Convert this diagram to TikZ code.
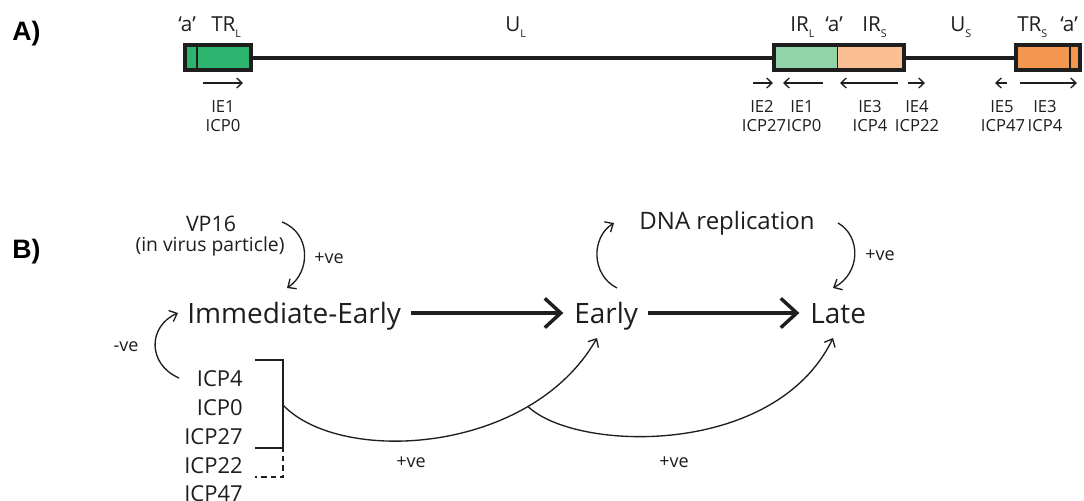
\documentclass[tikz,border=0pt]{standalone}
\usepackage{fontspec}
\setmainfont{Open Sans}
\newfontfamily\panelfont{Liberation Sans}
\usetikzlibrary{arrows.meta}
\definecolor{gDark}{RGB}{45,180,110}
\definecolor{gLight}{RGB}{145,212,168}
\definecolor{oLight}{RGB}{250,192,148}
\definecolor{oDark}{RGB}{243,150,80}
\definecolor{ink}{RGB}{30,30,30}
\newcommand{\fs}[1]{\fontsize{#1}{#1}\selectfont}
\newcommand{\lsub}[1]{\raisebox{-0.55ex}{\fs{8}#1}}
\begin{document}
\begin{tikzpicture}[x=0.75pt,y=-0.75pt,
  genome/.style={line width=3pt, draw=ink},
  boxline/.style={line width=3pt, draw=ink},
  divider/.style={line width=1.1pt, draw=ink},
  sarrow/.style={line width=1pt, draw=ink, -{Straight Barb[length=4pt,width=7.5pt]}},
  toplbl/.style={font=\fs{15.5}, anchor=base west, inner sep=0, text=ink},
  ielbl/.style={font=\fs{12.5}, anchor=base, inner sep=0, text=ink},
  panel/.style={font=\panelfont\bfseries\fs{20}, anchor=base west, inner sep=0},
  bigtxt/.style={font=\fs{21}, text height=15pt, text depth=0pt, inner sep=0, anchor=west, text=ink},
  bigarrow/.style={line width=2.4pt, draw=ink, -{Straight Barb[length=12pt,width=22pt,line width=2.6pt]}},
  curvearrow/.style={line width=1pt, draw=ink, -{Straight Barb[length=5pt,width=9pt]}},
  pm/.style={font=\fs{13.5}, inner sep=0, text=ink},
  icp/.style={font=\fs{16.5}, anchor=east, inner sep=0, text height=12pt, text depth=0pt, text=ink},
  midtxt/.style={font=\fs{18}, anchor=base, inner sep=0, text=ink}
]
\useasboundingbox (0,0) rectangle (1084,500);
\fill[white] (0,0) rectangle (1084,500);

% ---------------- Panel A ----------------
\node[panel] (pa) at (12,40) {A)};

% boxes
\fill[gDark] (185,45) rectangle (251,70);
\draw[divider] (197,45) -- (197,70);
\draw[boxline] (185,45) rectangle (251,70);
\coordinate (trlE) at (251,58);

\fill[gLight] (774,45) rectangle (837,70);
\fill[oLight] (837,45) rectangle (904,70);
\draw[divider] (837.5,45) -- (837.5,70);
\draw[boxline] (774,45) rectangle (904,70);
\coordinate (irW) at (774,58);
\coordinate (irE) at (904,58);

\fill[oDark] (1016,45) rectangle (1080,70);
\draw[divider] (1070,45) -- (1070,70);
\draw[boxline] (1016,45) rectangle (1080,70);
\coordinate (trsW) at (1016,58);

\draw[genome] (trlE) -- (irW);
\draw[genome] (irE) -- (trsW);

% top labels
\node[toplbl] (a1) at (178,31.5) {‘a’};
\node[toplbl] (trl) at (211,31.5) {TR\lsub{L}};
\node[toplbl] (ul) at (505,31.5) {U\lsub{L}};
\node[toplbl] (irl) at (790,31.5) {IR\lsub{L}};
\node[toplbl] (a2) at (825,31.5) {‘a’};
\node[toplbl] (irs) at (862,31.5) {IR\lsub{S}};
\node[toplbl] (us) at (950,31.5) {U\lsub{S}};
\node[toplbl] (trs) at (1017,31.5) {TR\lsub{S}};
\node[toplbl] (a3) at (1060,31.5) {‘a’};

% transcript arrows
\coordinate (t1a) at (203,83); \coordinate (t1b) at (243,83);
\draw[sarrow] (t1a) -- (t1b);
\coordinate (t2a) at (753,83); \coordinate (t2b) at (773,83);
\draw[sarrow] (t2a) -- (t2b);
\coordinate (t3a) at (823,83); \coordinate (t3b) at (783,83);
\draw[sarrow] (t3a) -- (t3b);
\coordinate (t4a) at (898,83); \coordinate (t4b) at (840,83);
\draw[sarrow] (t4a) -- (t4b);
\coordinate (t5a) at (908,83); \coordinate (t5b) at (925,83);
\draw[sarrow] (t5a) -- (t5b);
\coordinate (t6a) at (1007,83); \coordinate (t6b) at (995,83);
\draw[sarrow] (t6a) -- (t6b);
\coordinate (t7a) at (1020,83); \coordinate (t7b) at (1077,83);
\draw[sarrow] (t7a) -- (t7b);

% gene labels
\node[ielbl] (ie1a) at (223,112) {IE1};
\node[ielbl] (cp0a) at (223,131) {ICP0};
\node[ielbl] (ie2) at (762,112) {IE2};
\node[ielbl] (cp27) at (764,131) {ICP27};
\node[ielbl] (ie1b) at (802,112) {IE1};
\node[ielbl] (cp0b) at (804,131) {ICP0};
\node[ielbl] (ie3a) at (870,112) {IE3};
\node[ielbl] (cp4a) at (870,131) {ICP4};
\node[ielbl] (ie4) at (917,112) {IE4};
\node[ielbl] (cp22) at (917,131) {ICP22};
\node[ielbl] (ie5) at (1002,112) {IE5};
\node[ielbl] (cp47) at (1003,131) {ICP47};
\node[ielbl] (ie3b) at (1045,112) {IE3};
\node[ielbl] (cp4b) at (1045,131) {ICP4};

% ---------------- Panel B ----------------
\node[panel] (pb) at (12,258) {B)};

\node[font=\fs{16}, anchor=base, inner sep=0, text=ink] (vp16) at (211,231) {VP16};
\node[font=\fs{14.5}, anchor=base, inner sep=0, text=ink] (vpsub) at (210,251) {(in virus particle)};

\node[bigtxt] (ie) at (187,313) {Immediate-Early};
\node[bigtxt] (early) at (574,313) {Early};
\node[bigtxt] (late) at (810,313) {Late};

\draw[bigarrow, shorten <=7.5pt, shorten >=8pt] (ie.east) -- (early.west);
\draw[bigarrow, shorten <=7.5pt, shorten >=8pt] (early.east) -- (late.west);

\node[midtxt] (dna) at (727,229) {DNA replication};

% VP16 -> IE
\coordinate (vpA) at (282,222); \coordinate (vpB) at (287,288);
\draw[curvearrow] (vpA) .. controls (311,233) and (311,272) .. (vpB);
\node[pm] (pv1) at (329,258) {+ve};

% Early -> DNA replication
\coordinate (eA) at (617,288); \coordinate (eB) at (614,223);
\draw[curvearrow] (eA) .. controls (591,275) and (591,237) .. (eB);

% DNA replication -> Late
\coordinate (dA) at (838,223); \coordinate (dB) at (833,288);
\draw[curvearrow] (dA) .. controls (861,236) and (861,273) .. (dB);
\node[pm] (pv2) at (880,255) {+ve};

% ICP list
\node[icp] (i4) at (243,378) {ICP4};
\node[icp] (i0) at (243,407) {ICP0};
\node[icp] (i27) at (243,436) {ICP27};
\node[icp] (i22) at (243,465) {ICP22};
\node[icp] (i47) at (243,493) {ICP47};

% -ve feedback
\coordinate (nA) at (179,378); \coordinate (nB) at (178,313);
\draw[curvearrow] (nA) .. controls (147,364) and (148,326) .. (nB);
\node[pm] (mv) at (126,347) {-ve};

% bracket
\draw[line width=1pt, draw=ink] (255,360) -- (283,360) -- (283,452);
\draw[line width=1pt, draw=ink] (255,448) -- (283,448);
\draw[line width=1pt, draw=ink, dash pattern=on 4pt off 3pt] (283,456) -- (283,477) -- (255,477);
\coordinate (brk) at (283,405);

% activation curves
\coordinate (earlyIn) at (597,338);
\coordinate (lateIn) at (833,338);
\draw[curvearrow] (brk) .. controls (340,465) and (530,455) .. (earlyIn) coordinate[pos=0.75] (j);
\draw[curvearrow] (j) .. controls (575,452) and (775,458) .. (lateIn);
\node[pm] (pv3) at (411,462) {+ve};
\node[pm] (pv4) at (674,462) {+ve};
\end{tikzpicture}
\end{document}
